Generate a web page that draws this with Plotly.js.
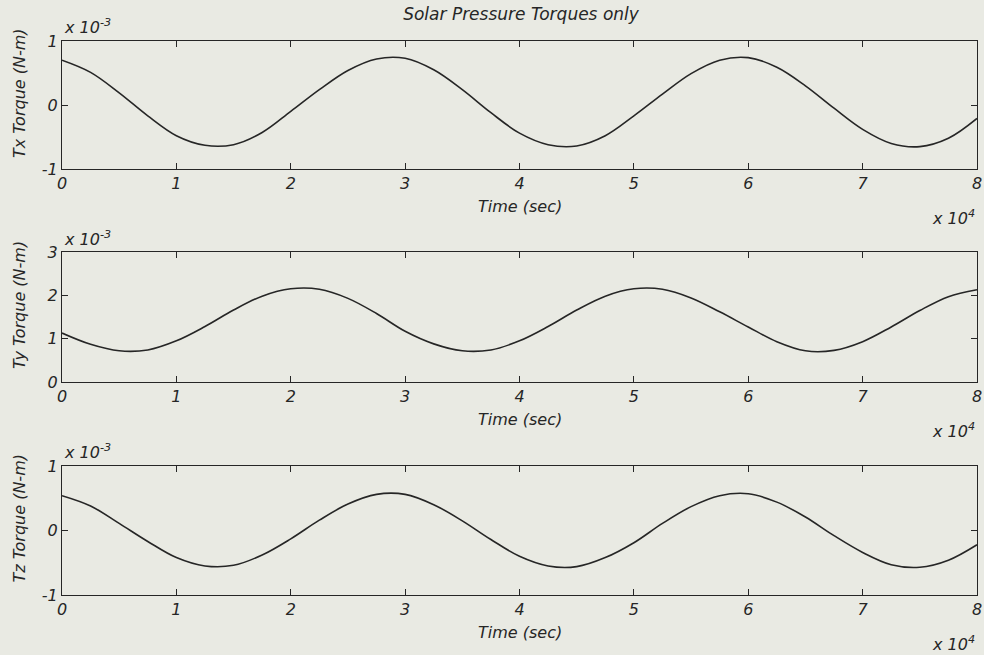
<!DOCTYPE html>
<html>
<head>
<meta charset="utf-8">
<script src="https://cdn.plot.ly/plotly-3.0.1.min.js"></script>
<style>html,body{margin:0;padding:0;background:#e9eae3;}#chart{width:984px;height:655px;}</style>
</head>
<body>
<div id="chart"></div>
<script>
// Time in units of 1e4 s (axis multiplier "x 10^4")
const time = [0,0.25,0.5,0.75,1,1.25,1.5,1.75,2,2.25,2.5,2.75,3,3.25,3.5,3.75,4,4.25,4.5,4.75,5,5.25,5.5,5.75,6,6.25,6.5,6.75,7,7.25,7.5,7.75,8];
// Torques in units of 1e-3 N-m (axis multiplier "x 10^-3")
const tx = [0.70,0.51,0.19,-0.17,-0.48,-0.63,-0.62,-0.43,-0.10,0.24,0.54,0.72,0.73,0.55,0.24,-0.12,-0.44,-0.62,-0.64,-0.48,-0.17,0.17,0.49,0.70,0.74,0.59,0.30,-0.05,-0.38,-0.60,-0.65,-0.52,-0.21];
const ty = [1.13,0.87,0.72,0.74,0.95,1.28,1.66,1.98,2.15,2.14,1.93,1.58,1.17,0.88,0.72,0.74,0.95,1.28,1.66,1.98,2.15,2.14,1.94,1.62,1.27,0.93,0.72,0.73,0.93,1.27,1.65,1.97,2.13];
const tz = [0.54,0.38,0.11,-0.17,-0.42,-0.55,-0.54,-0.38,-0.13,0.16,0.41,0.56,0.56,0.40,0.15,-0.14,-0.40,-0.55,-0.56,-0.42,-0.19,0.11,0.37,0.54,0.57,0.44,0.21,-0.08,-0.34,-0.53,-0.57,-0.46,-0.22];
const xTicks = [0,1,2,3,4,5,6,7,8];
const yTicksList = [[-1,0,1],[0,1,2,3],[-1,0,1]];
const chartTitle = "Solar Pressure Torques only";
const xTitle = "Time (sec)";
const yTitles = ["Tx Torque (N-m)","Ty Torque (N-m)","Tz Torque (N-m)"];
const yRanges = [[-1,1],[0,3],[-1,1]];

const W = 984, H = 655;
const bg = '#e9eae3';
const ink = '#262626';
const fam = 'DejaVu Sans, Liberation Sans, Arial, sans-serif';
const tickFont = {family: fam, size: 16, color: ink, style: 'italic'};
const textFont = {family: fam, size: 16, color: ink, style: 'italic'};

// pixel boxes of the three panels
const left = 62, right = 977;
const boxes = [[41,169],[252,382],[466,595]];
const xd = [left/W, right/W];

const series = [tx, ty, tz];
const data = series.map((s,i) => ({
  x: time, y: s, type: 'scatter', mode: 'lines',
  line: {color: ink, width: 1.6, shape: 'spline', smoothing: 1},
  xaxis: i === 0 ? 'x' : 'x' + (i+1),
  yaxis: i === 0 ? 'y' : 'y' + (i+1),
  hoverinfo: 'skip', showlegend: false
}));

const layout = {
  width: W, height: H,
  paper_bgcolor: bg, plot_bgcolor: bg,
  margin: {l: 0, r: 0, t: 0, b: 0},
  showlegend: false,
  title: {text: chartTitle, font: {family: fam, size: 17, color: ink, style: 'italic'}, x: 521/W, xanchor: 'center', y: 1 - 14/H, yanchor: 'middle', xref: 'paper', yref: 'container'},
  annotations: []
};

boxes.forEach((b,i) => {
  const sx = i === 0 ? '' : String(i+1);
  const yd = [1 - b[1]/H, 1 - b[0]/H];
  const common = {
    showline: true, mirror: 'ticks', linecolor: ink, linewidth: 1,
    ticks: 'inside', ticklen: 6, tickcolor: ink, tickwidth: 1,
    showgrid: false, zeroline: false, tickfont: tickFont, fixedrange: true
  };
  layout['xaxis' + sx] = Object.assign({}, common, {
    domain: xd, range: [0,8], tickmode: 'array', tickvals: xTicks, ticktext: xTicks.map(String),
    anchor: 'y' + sx
  });
  layout['yaxis' + sx] = Object.assign({}, common, {
    domain: yd, range: yRanges[i], tickmode: 'array', tickvals: yTicksList[i],
    ticktext: yTicksList[i].map(v => String(v)), anchor: 'x' + sx
  });
  // x axis title
  layout.annotations.push({text: xTitle, xref: 'paper', yref: 'paper', x: 520/W, y: 1 - (b[1] + 37)/H,
    xanchor: 'center', yanchor: 'middle', showarrow: false, font: textFont});
  // x multiplier
  layout.annotations.push({text: 'x 10<sup>4</sup>', xref: 'paper', yref: 'paper', x: 977/W, y: 1 - (b[1] + 48)/H,
    xanchor: 'right', yanchor: 'middle', showarrow: false, font: textFont});
  // y multiplier
  layout.annotations.push({text: 'x 10<sup>-3</sup>', xref: 'paper', yref: 'paper', x: 62/W, y: 1 - (b[0] - 14)/H,
    xanchor: 'left', yanchor: 'middle', showarrow: false, font: textFont});
  // y title
  layout.annotations.push({text: yTitles[i], xref: 'paper', yref: 'paper', x: 19/W, y: 1 - ((b[0]+b[1])/2 - 12)/H,
    xanchor: 'center', yanchor: 'middle', textangle: -90, showarrow: false, font: textFont});
});

Plotly.newPlot('chart', data, layout, {staticPlot: true, displayModeBar: false});
</script>
</body>
</html>
